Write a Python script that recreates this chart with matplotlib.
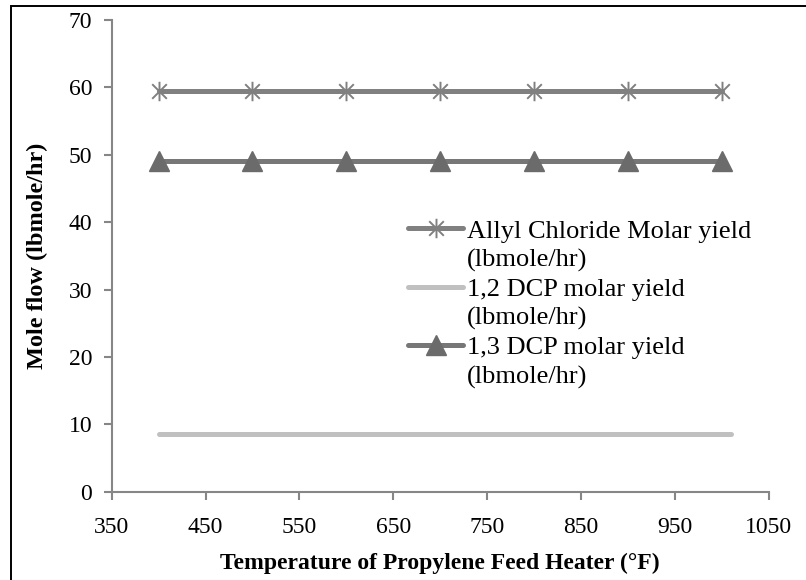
import matplotlib
matplotlib.use("Agg")
import matplotlib.pyplot as plt
from matplotlib.path import Path
from matplotlib.lines import Line2D
from matplotlib.patches import Rectangle

plt.rcParams['font.family'] = ['Liberation Serif', 'DejaVu Serif']

# Data
temperature = [400, 500, 600, 700, 800, 900, 1000]
allyl_chloride = [59.5, 59.5, 59.5, 59.5, 59.5, 59.5, 59.5]
temperature_12 = [400, 500, 600, 700, 800, 900, 1010]
dcp_12 = [8.5, 8.5, 8.5, 8.5, 8.5, 8.5, 8.5]
dcp_13 = [49.1, 49.1, 49.1, 49.1, 49.1, 49.1, 49.1]

series_labels = ["Allyl Chloride Molar yield", "1,2 DCP molar yield", "1,3 DCP molar yield"]
unit_label = "(lbmole/hr)"
x_ticks = [350, 450, 550, 650, 750, 850, 950, 1050]
y_ticks = [0, 10, 20, 30, 40, 50, 60, 70]

# Asterisk-style marker: vertical bar plus an X
star = Path([(0, -1), (0, 1), (-0.75, -0.75), (0.75, 0.75), (-0.75, 0.75), (0.75, -0.75)],
            [Path.MOVETO, Path.LINETO, Path.MOVETO, Path.LINETO, Path.MOVETO, Path.LINETO])

fig = plt.figure(figsize=(8.06, 5.80), dpi=100)
ax = fig.add_axes([0.1386, 0.1522, 0.9536 - 0.1386, 0.9655 - 0.1522])

c_allyl = '#808080'
c_12 = '#c0c0c0'
c_13 = '#777777'

l1, = ax.plot(temperature, allyl_chloride, color=c_allyl, lw=3.6, marker=star,
              ms=14, mec=c_allyl, mew=1.4, solid_capstyle='round', zorder=3)
l2, = ax.plot(temperature_12, dcp_12, color=c_12, lw=3.6, solid_capstyle='round', zorder=3)
l3, = ax.plot(temperature, dcp_13, color=c_13, lw=3.6, marker='^', ms=14,
              mfc='#6b6b6b', mec='#6b6b6b', solid_capstyle='round', zorder=3)

ax.set_xlim(350, 1050)
ax.set_ylim(0, 70)
ax.set_xticks(x_ticks)
ax.set_yticks(y_ticks)

for s in ['top', 'right']:
    ax.spines[s].set_visible(False)
for s in ['left', 'bottom']:
    ax.spines[s].set_color('#868686')
    ax.spines[s].set_linewidth(1.5)
ax.tick_params(axis='both', direction='out', length=6, width=1.5, color='#868686',
               labelsize=17, labelcolor='black')
ax.tick_params(axis='x', pad=12)
ax.tick_params(axis='y', pad=8)

ax.set_xlabel("Temperature of Propylene Feed Heater (°F)", fontsize=17, fontweight='bold',
              labelpad=11)
ax.set_ylabel("Mole flow (lbmole/hr)", fontsize=17.5, fontweight='bold', labelpad=15)

blank = Line2D([], [], linestyle='none', marker=None)
handles = [l1, blank, l2, blank, l3, blank]
labels = [series_labels[0], unit_label, series_labels[1], unit_label, series_labels[2], unit_label]
leg = ax.legend(handles, labels, loc='upper left', bbox_to_anchor=(0.451, 0.578),
                bbox_transform=ax.transAxes, frameon=False, fontsize=19,
                handlelength=2.1, handletextpad=0.12, labelspacing=0.21,
                borderpad=0, borderaxespad=0)

# Outer frame
fig.patches.append(Rectangle((11 / 806, -0.05), 1.2, 1 - 5.5 / 580 + 0.05,
                             transform=fig.transFigure, fill=False, edgecolor='black',
                             linewidth=1.4, zorder=10))

fig.savefig("out.png", dpi=100)
